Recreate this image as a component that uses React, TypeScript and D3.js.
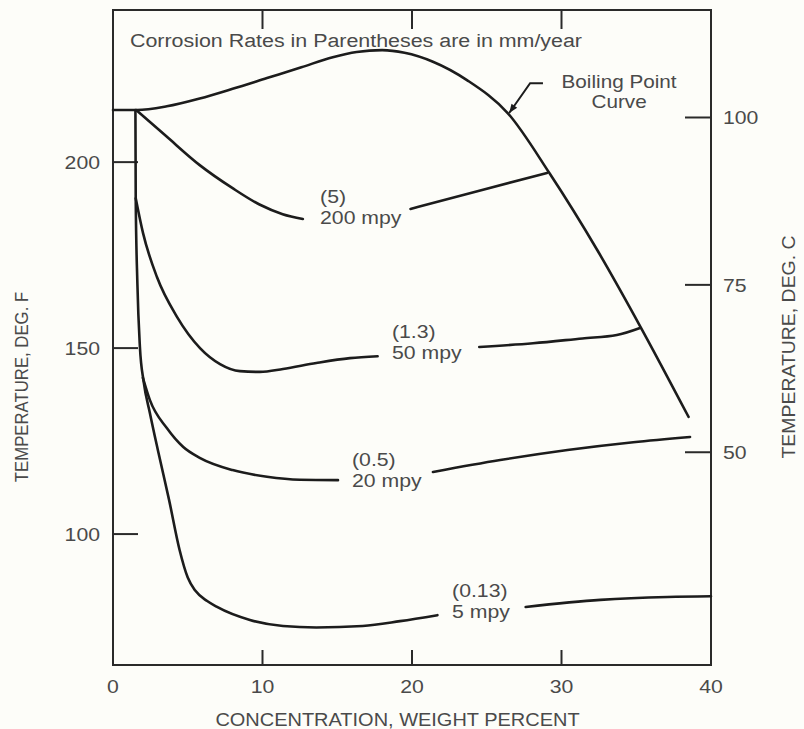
import React from 'react';
import * as d3 from 'd3';

const W = 804;
const H = 729;

// Axis ticks
const concTicks = [0, 10, 20, 30, 40];
const innerConcTicks = [10, 20, 30];
const fTicks = [100, 150, 200];
const cTicks = [50, 75, 100];

// Curves: [concentration wt%, temperature deg F]
const boilingCurve: [number, number][] = [
  [0, 214], [1.6, 214], [3.6, 215], [5.8, 217.1], [8.0, 219.7], [10.3, 222.6],
  [12.6, 225.5], [14.7, 228.2], [16.3, 229.6], [18.0, 230.1], [19.5, 229.4],
  [21.4, 227], [23.7, 222], [26.4, 213.2], [29.2, 197], [32.4, 176.3],
  [35.3, 155.6], [38.5, 131.5],
];

const mpy200Left: [number, number][] = [
  [1.55, 214], [3.55, 207], [5.8, 199.2], [8.0, 193], [9.8, 188.6], [11.35, 186], [12.7, 184.7],
];
const mpy200Right: [number, number][] = [
  [19.9, 187.4], [24.5, 192.3], [29.03, 197.1],
];

const mpy50Left: [number, number][] = [
  [1.52, 190.3], [2.01, 180.9], [2.94, 169.1], [4.28, 158.4], [5.82, 150.0],
  [7.16, 145.7], [8.49, 143.8], [9.83, 143.6], [11.37, 144.4], [13.6, 146],
  [15.85, 147.3], [17.7, 147.8],
];
const mpy50Right: [number, number][] = [
  [24.5, 150.3], [28.1, 151.3], [31.4, 152.6], [33.7, 153.5], [35.25, 155.4],
];

const mpy20Left: [number, number][] = [
  [2.0, 142], [2.47, 136], [3.6, 128.5], [4.7, 123.4], [5.8, 120.5],
  [8.0, 117.2], [10.3, 115.4], [12.5, 114.6], [15.05, 114.5],
];
const mpy20Right: [number, number][] = [
  [21.4, 116.7], [25.9, 119.9], [30.4, 122.6], [34.8, 124.7], [38.6, 126.1],
];

const mpy5Left: [number, number][] = [
  [1.5, 214], [1.52, 190], [1.63, 167.5], [1.8, 150.3], [2.05, 141], [2.47, 132.5],
  [3.0, 122.6], [3.75, 109.2], [4.45, 95.8], [5.0, 88.3], [5.5, 84.8], [6.3, 82],
  [6.96, 80.4], [9.16, 76.9], [11.37, 75.3], [13.6, 74.9], [16.7, 75.3], [19.2, 76.6],
  [21.7, 78.2],
];
const mpy5Right: [number, number][] = [
  [27.6, 80.4], [32.6, 82.3], [37.1, 83.1], [40, 83.3],
];

const curveSegments = [
  boilingCurve, mpy200Left, mpy200Right, mpy50Left, mpy50Right,
  mpy20Left, mpy20Right, mpy5Left, mpy5Right,
];

// Curve labels: anchor (left edge, first baseline) in data units
const labelTop = ['(5)', '(1.3)', '(0.5)', '(0.13)'];
const labelBottom = ['200 mpy', '50 mpy', '20 mpy', '5 mpy'];
const labelConc = [13.85, 18.66, 15.99, 22.68];
const labelTemp = [189, 152.7, 118.3, 83];

// Boiling point annotation (data units)
const arrowPath: [number, number][] = [[28.76, 221.2], [27.9, 221.2], [26.5, 213.2]];
const boilLabelConc = 33.85;
const boilLabelTemp = [219.9, 214.6];

const FONT = "'Liberation Sans', Arial, Helvetica, sans-serif";
const TEXT = '#4a4a4a';
const INK = '#1c1c1c';

function T(props: {
  x: number; y: number; anchor?: string; size?: number; sx?: number; rot?: number;
  children: React.ReactNode;
}) {
  const { x, y, anchor = 'start', size = 18, sx = 1.18, rot = 0, children } = props;
  return (
    <text
      transform={`translate(${x},${y}) rotate(${rot}) scale(${sx},1)`}
      textAnchor={anchor as any}
      fontSize={size}
      fontFamily={FONT}
      fill={TEXT}
    >
      {children}
    </text>
  );
}

export default function App() {
  const x = d3.scaleLinear().domain([0, 40]).range([113, 711]);
  const yF = d3.scaleLinear().domain([64.8, 240.9]).range([665, 10]);
  const yC = (c: number) => yF((c * 9) / 5 + 32);

  const line = d3
    .line<[number, number]>()
    .x((d) => x(d[0]))
    .y((d) => yF(d[1]))
    .curve(d3.curveMonotoneX);

  const straight = d3
    .line<[number, number]>()
    .x((d) => x(d[0]))
    .y((d) => yF(d[1]));

  const left = x(0);
  const right = x(40);
  const top = yF(240.9);
  const bottom = yF(64.8);

  // arrowhead
  const tip = arrowPath[arrowPath.length - 1];
  const prev = arrowPath[arrowPath.length - 2];
  const tx = x(tip[0]);
  const ty = yF(tip[1]);
  const dx = tx - x(prev[0]);
  const dy = ty - yF(prev[1]);
  const len = Math.hypot(dx, dy);
  const ux = dx / len;
  const uy = dy / len;
  const ah = 9;
  const aw = 3.5;
  const arrowHead = `M${tx},${ty} L${tx - ux * ah - uy * aw},${ty - uy * ah + ux * aw} L${tx - ux * ah + uy * aw},${ty - uy * ah - ux * aw} Z`;

  return (
    <svg
      width={W}
      height={H}
      viewBox={`0 0 ${W} ${H}`}
      style={{ position: 'absolute', left: 0, top: 0 }}
    >
      <rect x={0} y={0} width={W} height={H} fill="#fdfdf9" />

      {/* frame */}
      <rect
        x={left}
        y={top}
        width={right - left}
        height={bottom - top}
        fill="none"
        stroke="#2a2a2a"
        strokeWidth={2}
      />

      {/* top / bottom inner ticks */}
      {innerConcTicks.map((t) => (
        <g key={`tx${t}`}>
          <line x1={x(t)} x2={x(t)} y1={top} y2={top + 19} stroke="#2a2a2a" strokeWidth={2} />
          <line x1={x(t)} x2={x(t)} y1={bottom} y2={bottom - 15} stroke="#2a2a2a" strokeWidth={2} />
        </g>
      ))}

      {/* left F ticks */}
      {fTicks.map((t) => (
        <g key={`f${t}`}>
          <line x1={left} x2={left + 25} y1={yF(t)} y2={yF(t)} stroke="#2a2a2a" strokeWidth={2} />
          <T x={100} y={yF(t) + 7} anchor="end">{t}</T>
        </g>
      ))}

      {/* right C ticks */}
      {cTicks.map((t) => (
        <g key={`c${t}`}>
          <line x1={right - 26} x2={right} y1={yC(t)} y2={yC(t)} stroke="#2a2a2a" strokeWidth={2} />
          <T x={723} y={yC(t) + 7}>{t}</T>
        </g>
      ))}

      {/* bottom tick labels */}
      {concTicks.map((t) => (
        <T key={`b${t}`} x={x(t)} y={693} anchor="middle">{t}</T>
      ))}

      {/* axis titles */}
      <T x={397.5} y={726} anchor="middle" sx={1.11}>CONCENTRATION, WEIGHT PERCENT</T>
      <T x={28} y={387} anchor="middle" rot={-90} sx={0.93}>TEMPERATURE, DEG. F</T>
      <T x={795} y={347} anchor="middle" rot={-90} sx={1.08}>TEMPERATURE, DEG. C</T>

      {/* note */}
      <T x={130} y={47} sx={1.19}>Corrosion Rates in Parentheses are in mm/year</T>

      {/* curves */}
      {curveSegments.map((seg, i) => (
        <path
          key={`s${i}`}
          d={line(seg) || ''}
          fill="none"
          stroke={INK}
          strokeWidth={2.6}
          strokeLinecap="round"
          strokeLinejoin="round"
        />
      ))}

      {/* curve labels */}
      {labelTop.map((lt, i) => (
        <g key={`l${i}`}>
          <T x={x(labelConc[i])} y={yF(labelTemp[i])}>{lt}</T>
          <T x={x(labelConc[i])} y={yF(labelTemp[i]) + 21}>{labelBottom[i]}</T>
        </g>
      ))}

      {/* boiling point annotation */}
      <path d={straight(arrowPath) || ''} fill="none" stroke={INK} strokeWidth={2} />
      <path d={arrowHead} fill={INK} />
      <T x={x(boilLabelConc)} y={yF(boilLabelTemp[0])} anchor="middle" sx={1.15}>Boiling Point</T>
      <T x={x(boilLabelConc)} y={yF(boilLabelTemp[1])} anchor="middle" sx={1.15}>Curve</T>
    </svg>
  );
}
